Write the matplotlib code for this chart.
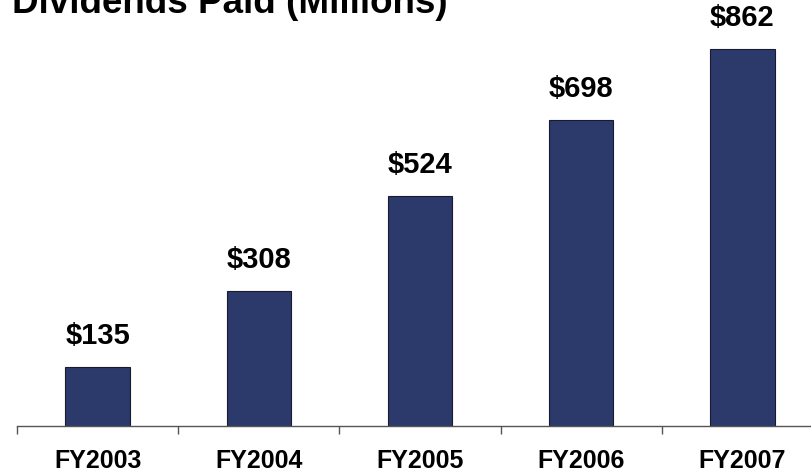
import matplotlib
matplotlib.use("Agg")
import matplotlib.pyplot as plt
import numpy as np

categories = ["FY2003", "FY2004", "FY2005", "FY2006", "FY2007"]
values = [135, 308, 524, 698, 862]
value_labels = ["$135", "$308", "$524", "$698", "$862"]
title = "Dividends Paid (Millions)"

plt.rcParams['font.family'] = ['Liberation Sans', 'DejaVu Sans']

W, H = 811, 475
fig = plt.figure(figsize=(W/100, H/100), dpi=100)
scale = 0.4375  # px per unit
left_px, base_px, step = 17, 425.7, 161.2
ax_h_px = 1000 * scale
ax = fig.add_axes([left_px/W, (H-base_px)/H, 5*step/W, ax_h_px/H])
x = np.arange(len(categories))
ax.bar(x, values, width=0.40, color="#2B3A6B", edgecolor="#1a1a2e", linewidth=0.8)
ax.set_xlim(-0.5, 4.5)
ax.set_ylim(0, 1000)
for xi, v, lab in zip(x, values, value_labels):
    ax.annotate(lab, (xi, v), xytext=(0, 17), textcoords="offset pixels",
                ha="center", va="bottom", fontsize=21, fontweight="bold")
for s in ["top", "right", "left"]:
    ax.spines[s].set_visible(False)
ax.spines["bottom"].set_color("#555555")
ax.spines["bottom"].set_linewidth(1.0)
ax.set_yticks([])
ax.set_xticks(x)
ax.set_xticklabels(categories, fontsize=18, fontweight="bold")
ax.tick_params(axis="x", which="major", length=0, pad=17)
ax.set_xticks(np.arange(-0.5, 5.0, 1.0), minor=True)
ax.tick_params(axis="x", which="minor", length=6, width=1.0, color="#555555", direction="out")

fig.text(12/W, 1 - 13/H, title, fontsize=26.5, fontweight="bold", ha="left", va="baseline")
fig.savefig("out.png", dpi=100)
